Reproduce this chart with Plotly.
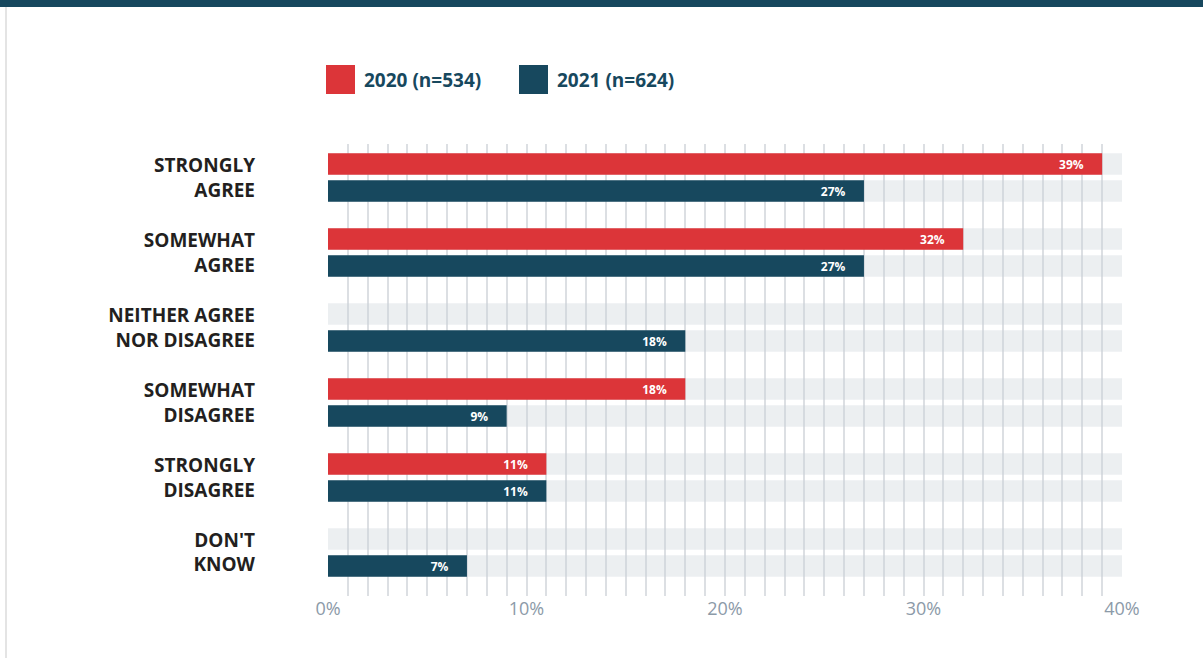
import plotly.graph_objects as go

categories = ["STRONGLY<br>AGREE", "SOMEWHAT<br>AGREE", "NEITHER AGREE<br>NOR DISAGREE",
              "SOMEWHAT<br>DISAGREE", "STRONGLY<br>DISAGREE", "DON'T<br>KNOW"]
series_names = ["2020 (n=534)", "2021 (n=624)"]
values_2020 = [39, 32, None, 18, 11, None]
values_2021 = [27, 27, 18, 9, 11, 7]
axis_max = 40
tick_values = [0, 10, 20, 30, 40]
tick_labels = ["0%", "10%", "20%", "30%", "40%"]

RED = "#dc3539"
NAVY = "#17485e"
PAD = "\u00a0" * 5

W, H = 1203, 658
L, R, T, B = 328, 81, 144, 62
PW, PH = W - L - R, H - T - B


def px(x):
    return (x - L) / PW


def py(y):
    return (H - B - y) / PH


def labels(vals):
    return [f"{v}%{PAD}" if v is not None else "" for v in vals]


fig = go.Figure()
for name, vals, color, grp in [(series_names[0], values_2020, RED, "a"),
                               (series_names[1], values_2021, NAVY, "b")]:
    fig.add_trace(go.Bar(
        y=categories, x=[axis_max] * len(categories), orientation="h",
        offsetgroup=grp, marker=dict(color="rgba(201,210,214,0.35)", line_width=0),
        hoverinfo="skip", showlegend=False))
    fig.add_trace(go.Bar(
        y=categories, x=vals, orientation="h", name=name, offsetgroup=grp,
        marker=dict(color=color, line_width=0),
        text=labels(vals), textposition="inside", insidetextanchor="end",
        textangle=0, constraintext="none",
        textfont=dict(family="Open Sans", size=12, color="white", weight=700),
        showlegend=False))

fig.update_layout(
    width=W, height=H, margin=dict(l=L, r=R, t=T, b=B),
    paper_bgcolor="white", plot_bgcolor="white",
    barmode="group", bargap=0.28, bargroupgap=0.2,
    xaxis=dict(range=[0, axis_max], tickvals=tick_values, ticktext=tick_labels,
               showgrid=True, gridcolor="#dcdfe3", gridwidth=2, zeroline=False,
               showline=False, ticks="",
               tickfont=dict(family="Open Sans", size=18, color="#8c9aa8"),
               minor=dict(dtick=1, showgrid=True, gridcolor="#dcdfe3", gridwidth=2)),
    yaxis=dict(categoryorder="array", categoryarray=categories,
               range=[5.58, -0.447], showgrid=False, zeroline=False, ticks="",
               ticklabelstandoff=72,
               tickfont=dict(family="Open Sans", size=19, color="#231f20", weight=700)),
    showlegend=False,
)

shapes = [
    dict(type="rect", xref="paper", yref="paper", x0=px(0), x1=px(W), y0=py(0), y1=py(7),
         fillcolor=NAVY, line_width=0, layer="above"),
    dict(type="line", xref="paper", yref="paper", x0=px(6), x1=px(6), y0=py(7), y1=py(H),
         line=dict(color="#e4e4e4", width=2)),
]
annotations = []
legend_x = [326, 519]
for name, color, lx in zip(series_names, [RED, NAVY], legend_x):
    shapes.append(dict(type="rect", xref="paper", yref="paper", x0=px(lx), x1=px(lx + 29),
                       y0=py(94), y1=py(65), fillcolor=color, line_width=0))
    annotations.append(dict(xref="paper", yref="paper", x=px(lx + 36), y=py(80),
                            xanchor="left", yanchor="middle", text=name, showarrow=False,
                            font=dict(family="Open Sans", size=19, color=NAVY, weight=700)))
fig.update_layout(shapes=shapes, annotations=annotations)

fig.write_html("out.html", config={"displayModeBar": False},
               post_script="document.body.style.margin='0';document.body.style.overflow='hidden';")
